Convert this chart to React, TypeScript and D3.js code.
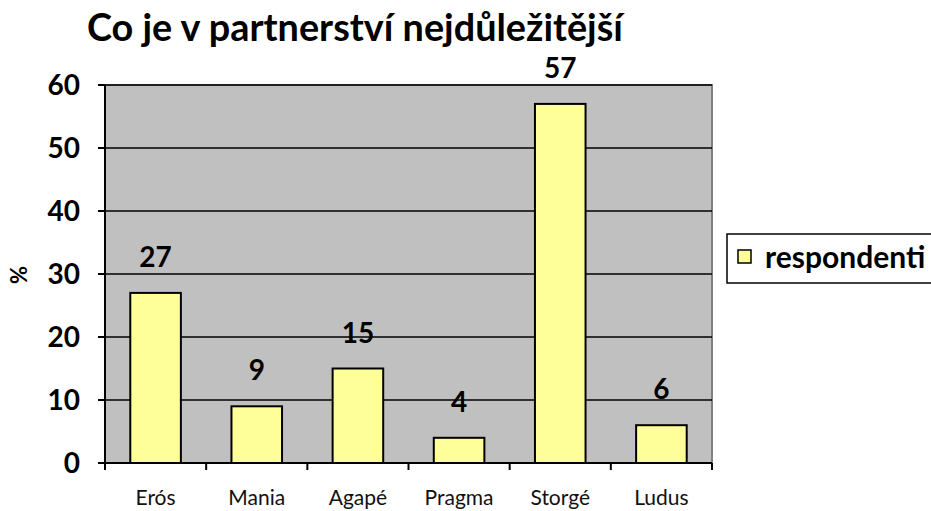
import React from "react";
import * as d3 from "d3";

const title = "Co je v partnerství nejdůležitější";
const categories = ["Erós", "Mania", "Agapé", "Pragma", "Storgé", "Ludus"];
const values = [27, 9, 15, 4, 57, 6];
const yTicks = [0, 10, 20, 30, 40, 50, 60];
const seriesName = "respondenti";
const yLabel = "%";

const W = 931;
const H = 511;
const FONT = "Lato, 'Open Sans', sans-serif";

export default function App() {
  const left = 105, right = 712, top = 85, bottom = 463;
  const x = d3.scaleBand<string>().domain(categories).range([left, right]).paddingInner(0.5).paddingOuter(0.25);
  const xb = d3.scaleBand<string>().domain(categories).range([left, right]);
  const y = d3.scaleLinear().domain([0, 60]).range([bottom, top]);

  return (
    <svg width={W} height={H} style={{ position: "absolute", left: 0, top: 0 }} fontFamily={FONT}>
      <rect x={0} y={0} width={W} height={H} fill="#fff" />
      <text x={87} y={41} fontSize={37.8} fontWeight="bold">{title}</text>
      <rect x={left} y={top} width={right - left} height={bottom - top} fill="#C0C0C0" stroke="#808080" strokeWidth={2} />
      {yTicks.filter(t => t > 0).map(t => (
        <line key={t} x1={left} x2={right} y1={y(t)} y2={y(t)} stroke="#000" strokeWidth={1.5} />
      ))}
      {categories.map((c, i) => (
        <rect key={c} x={x(c)} y={y(values[i])} width={x.bandwidth()} height={bottom - y(values[i])}
          fill="#FFFF99" stroke="#000" strokeWidth={2} />
      ))}
      <line x1={left} x2={left} y1={top} y2={bottom} stroke="#000" strokeWidth={2} />
      <line x1={left} x2={right} y1={bottom} y2={bottom} stroke="#000" strokeWidth={2} />
      {yTicks.map(t => (
        <g key={t}>
          <line x1={left - 7} x2={left} y1={y(t)} y2={y(t)} stroke="#000" strokeWidth={2} />
          <text x={80} y={y(t) + 10} fontSize={28} fontWeight="bold" textAnchor="end">{t}</text>
        </g>
      ))}
      {categories.map((c) => (
        <line key={"t" + c} x1={xb(c)} x2={xb(c)} y1={bottom} y2={bottom + 7} stroke="#000" strokeWidth={2} />
      ))}
      <line x1={right} x2={right} y1={bottom} y2={bottom + 7} stroke="#000" strokeWidth={2} />
      {categories.map((c) => (
        <text key={"c" + c} x={xb(c)! + xb.bandwidth() / 2} y={505} fontSize={21} fill="#111" textAnchor="middle">{c}</text>
      ))}
      {categories.map((c, i) => (
        <text key={"v" + c} x={xb(c)! + xb.bandwidth() / 2} y={y(values[i]) - 26} fontSize={28} fontWeight="bold" textAnchor="middle">{values[i]}</text>
      ))}
      <text transform="translate(27,275) rotate(-90)" fontSize={22} fontWeight="bold" textAnchor="middle">{yLabel}</text>
      <rect x={727} y={234} width={210} height={49} fill="#fff" stroke="#000" strokeWidth={1.5} />
      <rect x={738} y={250} width={13} height={13} fill="#FFFF99" stroke="#000" strokeWidth={1.5} />
      <text x={765} y={268} fontSize={30} fontWeight="bold">{seriesName}</text>
    </svg>
  );
}
